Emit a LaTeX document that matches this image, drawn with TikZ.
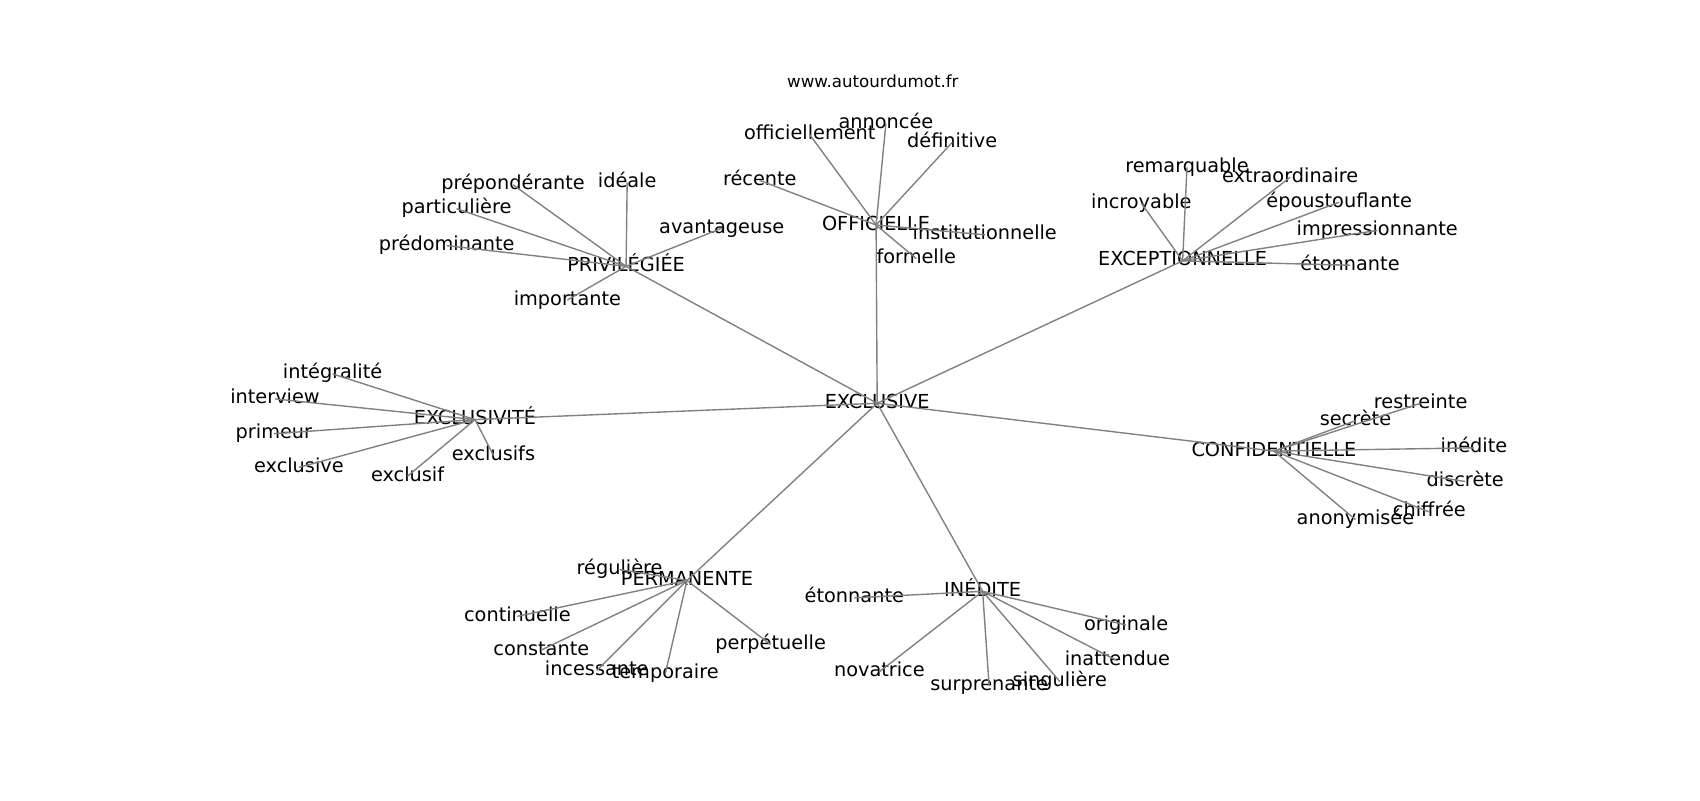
\documentclass[tikz,border=0pt]{standalone}
\usepackage{fontspec}
\setmainfont{DejaVu Sans}
\usetikzlibrary{positioning}

\begin{document}
\begin{tikzpicture}[x=0.7826pt, y=-0.7826pt,
    word/.style={inner sep=0pt,
      anchor=center,
      text height=10.5pt,
      text depth=3.3pt,
      font=\fontsize{13.9}{16}\selectfont},
    link/.style={draw=gray, line width=1pt}]

  \useasboundingbox (0,0) rectangle (1564,736);

  \node[inner sep=0pt, text height=9pt, text depth=2.9pt,
    font=\fontsize{12}{14}\selectfont] (site) at (803,77) {www.autourdumot.fr};

  % HUBS

  \node[word] (exclusive) at (807,371) {EXCLUSIVE};
  \node[word] (officielle) at (806,207) {OFFICIELLE};
  \node[word] (privilegiee) at (576,245) {PRIVILÉGIÉE};
  \node[word] (exceptionnelle) at (1088,240) {EXCEPTIONNELLE};
  \node[word] (confidentielle) at (1172,415) {CONFIDENTIELLE};
  \node[word] (exclusivite) at (437,386) {EXCLUSIVITÉ};
  \node[word] (permanente) at (632,534) {PERMANENTE};
  \node[word] (inedite) at (904,544) {INÉDITE};

  % PRIVILEGIEE

  \node[word] (preponderante) at (472,170) {prépondérante};
  \node[word] (ideale) at (577,168) {idéale};
  \node[word] (particuliere) at (420,192) {particulière};
  \node[word] (predominante) at (411,226) {prédominante};
  \node[word] (avantageuse) at (664,210) {avantageuse};
  \node[word] (importante) at (522,276) {importante};

  % OFFICIELLE

  \node[word] (officiellement) at (745,124) {officiellement};
  \node[word] (annoncee) at (815,114) {annoncée};
  \node[word] (definitive) at (876,131) {définitive};
  \node[word] (recente) at (699,166) {récente};
  \node[word] (institutionnelle) at (906,216) {institutionnelle};
  \node[word] (formelle) at (843,238) {formelle};

  % EXCEPTIONNELLE

  \node[word] (remarquable) at (1092,154) {remarquable};
  \node[word] (extraordinaire) at (1187,163) {extraordinaire};
  \node[word] (incroyable) at (1050,187) {incroyable};
  \node[word] (epoustouflante) at (1232,186) {époustouflante};
  \node[word] (impressionnante) at (1267,212) {impressionnante};
  \node[word] (etonnanteexc) at (1242,244) {étonnante};

  % CONFIDENTIELLE

  \node[word] (restreinte) at (1307,371) {restreinte};
  \node[word] (secrete) at (1247,387) {secrète};
  \node[word] (ineditecon) at (1356,412) {inédite};
  \node[word] (discrete) at (1348,443) {discrète};
  \node[word] (chiffree) at (1315,471) {chiffrée};
  \node[word] (anonymisee) at (1247,478) {anonymisée};

  % EXCLUSIVITE

  \node[word] (integralite) at (306,344) {intégralité};
  \node[word] (interview) at (253,367) {interview};
  \node[word] (primeur) at (252,399) {primeur};
  \node[word] (exclusiveleaf) at (275,430) {exclusive};
  \node[word] (exclusif) at (375,438) {exclusif};
  \node[word] (exclusifs) at (454,419) {exclusifs};

  % PERMANENTE

  \node[word] (reguliere) at (570,524) {régulière};
  \node[word] (continuelle) at (476,567) {continuelle};
  \node[word] (constante) at (498,598) {constante};
  \node[word] (incessante) at (549,617) {incessante};
  \node[word] (temporaire) at (612,620) {temporaire};
  \node[word] (perpetuelle) at (709,593) {perpétuelle};

  % INEDITE

  \node[word] (etonnanteine) at (786,550) {étonnante};
  \node[word] (originale) at (1036,575) {originale};
  \node[word] (inattendue) at (1028,608) {inattendue};
  \node[word] (novatrice) at (809,618) {novatrice};
  \node[word] (surprenante) at (910,631) {surprenante};
  \node[word] (singuliere) at (975,627) {singulière};

  % LINKS

  \foreach \hub in {officielle, privilegiee, exceptionnelle, confidentielle,
      exclusivite, permanente, inedite}
    \draw[link] (exclusive.center) -- (\hub.center);

  \foreach \leaf in {preponderante, ideale, particuliere, predominante,
      avantageuse, importante}
    \draw[link] (privilegiee.center) -- (\leaf.center);

  \foreach \leaf in {officiellement, annoncee, definitive, recente,
      institutionnelle, formelle}
    \draw[link] (officielle.center) -- (\leaf.center);

  \foreach \leaf in {remarquable, extraordinaire, incroyable, epoustouflante,
      impressionnante, etonnanteexc}
    \draw[link] (exceptionnelle.center) -- (\leaf.center);

  \foreach \leaf in {restreinte, secrete, ineditecon, discrete, chiffree,
      anonymisee}
    \draw[link] (confidentielle.center) -- (\leaf.center);

  \foreach \leaf in {integralite, interview, primeur, exclusiveleaf, exclusif,
      exclusifs}
    \draw[link] (exclusivite.center) -- (\leaf.center);

  \foreach \leaf in {reguliere, continuelle, constante, incessante, temporaire,
      perpetuelle}
    \draw[link] (permanente.center) -- (\leaf.center);

  \foreach \leaf in {etonnanteine, originale, inattendue, novatrice,
      surprenante, singuliere}
    \draw[link] (inedite.center) -- (\leaf.center);

\end{tikzpicture}
\end{document}
